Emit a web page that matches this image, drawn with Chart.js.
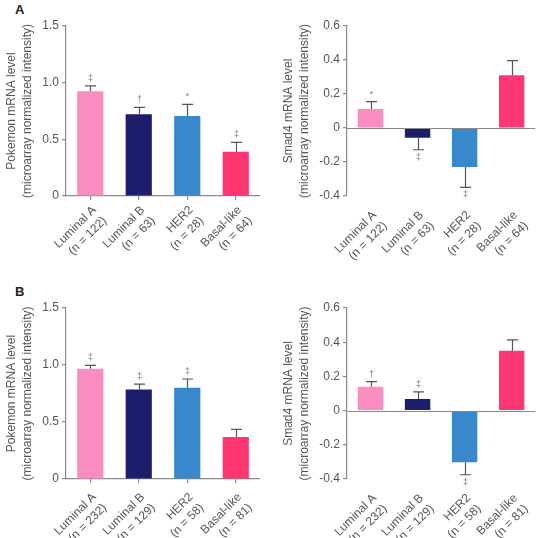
<!DOCTYPE html>
<html>
<head>
<meta charset="utf-8">
<script src="https://cdn.jsdelivr.net/npm/chart.js@4.4.1/dist/chart.umd.min.js"></script>
<style>
  html, body { margin: 0; padding: 0; background: #fff; }
  body { width: 541px; height: 538px; position: relative; overflow: hidden; font-family: "Liberation Sans", Arial, sans-serif; }
  canvas { position: absolute; }
  .panel { position: absolute; font-weight: bold; font-size: 13px; color: #222; }
</style>
</head>
<body>
<div class="panel" style="left:15px; top:2px;">A</div>
<div class="panel" style="left:15px; top:284px;">B</div>
<canvas id="c1" width="270" height="270" style="left:0; top:0;"></canvas>
<canvas id="c2" width="271" height="270" style="left:270px; top:0;"></canvas>
<canvas id="c3" width="270" height="268" style="left:0; top:270px;"></canvas>
<canvas id="c4" width="271" height="268" style="left:270px; top:270px;"></canvas>
<script>
// ---- data ----
const subtypes = ['Luminal A', 'Luminal B', 'HER2', 'Basal-like'];
const nA = [122, 63, 28, 64];
const nB = [232, 129, 58, 81];
const colors = ['#F98DC0', '#1C1E6C', '#3A88CC', '#FE3772'];

const pokemonA = [0.925, 0.722, 0.705, 0.391];
const pokemonAErr = [0.047, 0.060, 0.103, 0.082];
const pokemonASig = ['‡', '†', '*', '‡'];

const smad4A = [0.112, -0.057, -0.229, 0.310];
const smad4AErr = [0.043, 0.071, 0.120, 0.086];
const smad4ASig = ['*', '‡', '‡', ''];

const pokemonB = [0.967, 0.786, 0.800, 0.368];
const pokemonBErr = [0.030, 0.047, 0.077, 0.067];
const pokemonBSig = ['‡', '‡', '‡', ''];

const smad4B = [0.139, 0.068, -0.302, 0.350];
const smad4BErr = [0.030, 0.041, 0.073, 0.064];
const smad4BSig = ['†', '‡', '‡', ''];

const pokemonTitle = ['Pokemon mRNA level', '(microarray normalized intensity)'];
const smad4Title = ['Smad4 mRNA level', '(microarray normalized intensity)'];

// ---- rendering ----
const FONT = '"Liberation Sans", Arial, Helvetica, sans-serif';
const TXT = '#555';
const AXIS = '#8a8a8a';

const errorBarPlugin = {
  id: 'errorBars',
  afterDatasetsDraw(chart) {
    const opts = chart.options.plugins.errorBars;
    const ctx = chart.ctx;
    const yScale = chart.scales.y;
    const meta = chart.getDatasetMeta(0);
    const data = chart.data.datasets[0].data;
    ctx.save();
    if (opts.zeroLine) {
      const y0 = Math.round(yScale.getPixelForValue(0)) + 0.5;
      ctx.strokeStyle = AXIS;
      ctx.lineWidth = 1.2;
      ctx.beginPath();
      ctx.moveTo(chart.chartArea.left, y0);
      ctx.lineTo(chart.chartArea.right, y0);
      ctx.stroke();
    }
    meta.data.forEach((bar, i) => {
      const v = data[i];
      const sign = v >= 0 ? 1 : -1;
      const end = v + sign * opts.errors[i];
      const yEnd = yScale.getPixelForValue(end);
      const x = Math.round(bar.x) + 0.5;
      ctx.strokeStyle = '#555';
      ctx.lineWidth = 1.2;
      ctx.beginPath();
      ctx.moveTo(x, bar.y);
      ctx.lineTo(x, yEnd);
      ctx.moveTo(x - 5.5, yEnd);
      ctx.lineTo(x + 5.5, yEnd);
      ctx.stroke();
      const s = opts.symbols[i];
      if (s) {
        ctx.fillStyle = '#777';
        ctx.font = '9px ' + FONT;
        ctx.textAlign = 'center';
        ctx.textBaseline = 'middle';
        ctx.fillText(s, x, yEnd - sign * 7.5);
      }
    });
    ctx.restore();
  }
};

function makeChart(id, values, errors, symbols, ns, title, yMin, yMax, step, pad, yWidth, xHeight, titlePad, labelPad, isDiverging) {
  const labels = subtypes.map((s, i) => [s, '(n = ' + ns[i] + ')']);
  return new Chart(document.getElementById(id), {
    type: 'bar',
    data: {
      labels: labels,
      datasets: [{
        data: values,
        backgroundColor: colors,
        borderWidth: 0,
        barPercentage: 0.54,
        categoryPercentage: 1.0
      }]
    },
    options: {
      responsive: false,
      animation: false,
      devicePixelRatio: 1,
      layout: { padding: pad },
      plugins: {
        legend: { display: false },
        tooltip: { enabled: false },
        errorBars: { errors: errors, symbols: symbols, zeroLine: isDiverging }
      },
      scales: {
        x: {
          border: { display: !isDiverging, color: AXIS, width: 1.2 },
          grid: { display: !isDiverging, offset: false, drawOnChartArea: false, drawTicks: true, tickLength: 4, color: AXIS, lineWidth: 1.2 },
          ticks: {
            autoSkip: false, minRotation: 45, maxRotation: 45,
            color: TXT, padding: labelPad, labelOffset: 4,
            font: { family: FONT, size: 12, lineHeight: 1.25 }
          },
          afterFit(scale) { scale.height = xHeight; }
        },
        y: {
          min: yMin, max: yMax,
          border: { display: true, color: AXIS, width: 1.2 },
          grid: { drawOnChartArea: false, drawTicks: true, tickLength: 4, color: AXIS, lineWidth: 1.2 },
          ticks: {
            stepSize: step, color: TXT, padding: 3,
            font: { family: FONT, size: 12 },
            callback: (v) => (Math.abs(v) < 1e-9 ? '0' : Number(v).toFixed(1))
          },
          title: {
            display: true, text: title, color: TXT,
            font: { family: FONT, size: 12, lineHeight: 1.3 },
            padding: { top: titlePad, bottom: 0 }
          },
          afterFit(scale) { scale.width = yWidth; }
        }
      }
    },
    plugins: [errorBarPlugin]
  });
}

makeChart('c1', pokemonA, pokemonAErr, pokemonASig, nA, pokemonTitle, 0, 1.5, 0.5,
  { top: 26, right: 10, left: 0, bottom: 0 }, 66, 74, 4, 3, false);
makeChart('c2', smad4A, smad4AErr, smad4ASig, nA, smad4Title, -0.4, 0.6, 0.2,
  { top: 26, right: 1, left: 0, bottom: 0 }, 77, 74, 11, 8, true);
makeChart('c3', pokemonB, pokemonBErr, pokemonBSig, nB, pokemonTitle, 0, 1.5, 0.5,
  { top: 38, right: 10, left: 0, bottom: 0 }, 66, 59, 4, 7, false);
makeChart('c4', smad4B, smad4BErr, smad4BSig, nB, smad4Title, -0.4, 0.6, 0.2,
  { top: 38, right: 1, left: 0, bottom: 0 }, 77, 59, 11, 8, true);
</script>
</body>
</html>
